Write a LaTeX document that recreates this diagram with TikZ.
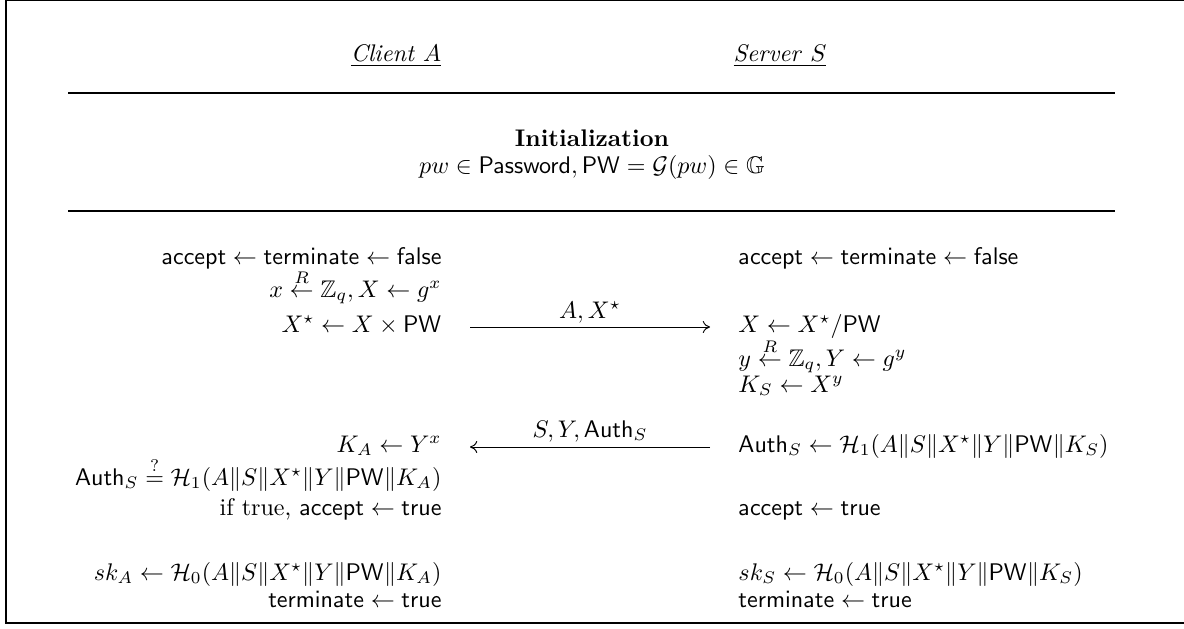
\documentclass[tikz,border=0pt]{standalone}
\usepackage{amsmath,amssymb}
\usetikzlibrary{arrows.meta}
\begin{document}
\begin{tikzpicture}[x=0.4157pt,y=-0.4157pt,
  lft/.style={anchor=base east, inner sep=0pt},
  rgt/.style={anchor=base west, inner sep=0pt},
  ctr/.style={anchor=base, inner sep=0pt},
  msg/.style={line width=0.4pt, -{Computer Modern Rightarrow[length=3pt,width=5pt]}},
  rulebar/.style={line width=0.85pt},
  framebox/.style={line width=1pt}]
\useasboundingbox (0,0) rectangle (1184,628);
\draw[framebox] (6,0) rectangle (1210,623);
% headers
\node[ctr] (cli) at (396,62) {\underline{\textit{Client} $A$}};
\node[ctr] (srv) at (780,62) {\underline{\textit{Server} $S$}};
\draw[rulebar] (68,93) -- (1115,93);
\node[ctr] (init) at (592,146) {\textbf{Initialization}};
\node[ctr] (pw) at (592,173) {$pw \in \mathsf{Password}, \mathsf{PW} = \mathcal{G}(pw) \in \mathbb{G}$};
\draw[rulebar] (68,211) -- (1115,211);
% client column
\node[lft] (c1) at (442,264) {$\mathsf{accept} \leftarrow \mathsf{terminate} \leftarrow \mathsf{false}$};
\node[lft] (c2) at (442,297) {$x \overset{R}{\leftarrow} \mathbb{Z}_q, X \leftarrow g^x$};
\node[lft] (c3) at (442,332) {$X^\star \leftarrow X \times \mathsf{PW}$};
\node[lft] (c4) at (442,452) {$K_A \leftarrow Y^x$};
\node[lft] (c5) at (442,485) {$\mathsf{Auth}_S \overset{?}{=} \mathcal{H}_1(A\|S\|X^\star\|Y\|\mathsf{PW}\|K_A)$};
\node[lft] (c6) at (442,515) {if true, $\mathsf{accept} \leftarrow \mathsf{true}$};
\node[lft] (c7) at (442,580) {$sk_A \leftarrow \mathcal{H}_0(A\|S\|X^\star\|Y\|\mathsf{PW}\|K_A)$};
\node[lft] (c8) at (442,607) {$\mathsf{terminate} \leftarrow \mathsf{true}$};
% server column
\node[rgt] (s1) at (738,264) {$\mathsf{accept} \leftarrow \mathsf{terminate} \leftarrow \mathsf{false}$};
\node[rgt] (s2) at (738,332) {$X \leftarrow X^\star/\mathsf{PW}$};
\node[rgt] (s3) at (738,366) {$y \overset{R}{\leftarrow} \mathbb{Z}_q, Y \leftarrow g^y$};
\node[rgt] (s4) at (738,392) {$K_S \leftarrow X^y$};
\node[rgt] (s5) at (738,452) {$\mathsf{Auth}_S \leftarrow \mathcal{H}_1(A\|S\|X^\star\|Y\|\mathsf{PW}\|K_S)$};
\node[rgt] (s6) at (738,515) {$\mathsf{accept} \leftarrow \mathsf{true}$};
\node[rgt] (s7) at (738,580) {$sk_S \leftarrow \mathcal{H}_0(A\|S\|X^\star\|Y\|\mathsf{PW}\|K_S)$};
\node[rgt] (s8) at (738,607) {$\mathsf{terminate} \leftarrow \mathsf{true}$};
% messages
\coordinate (m1a) at (470,327);
\coordinate (m1b) at (710,327);
\draw[msg] (m1a) -- (m1b);
\node[ctr] (l1) at (590,318) {$A, X^\star$};
\coordinate (m2a) at (710,447);
\coordinate (m2b) at (470,447);
\draw[msg] (m2a) -- (m2b);
\node[ctr] (l2) at (590,437) {$S, Y, \mathsf{Auth}_S$};
\end{tikzpicture}
\end{document}
